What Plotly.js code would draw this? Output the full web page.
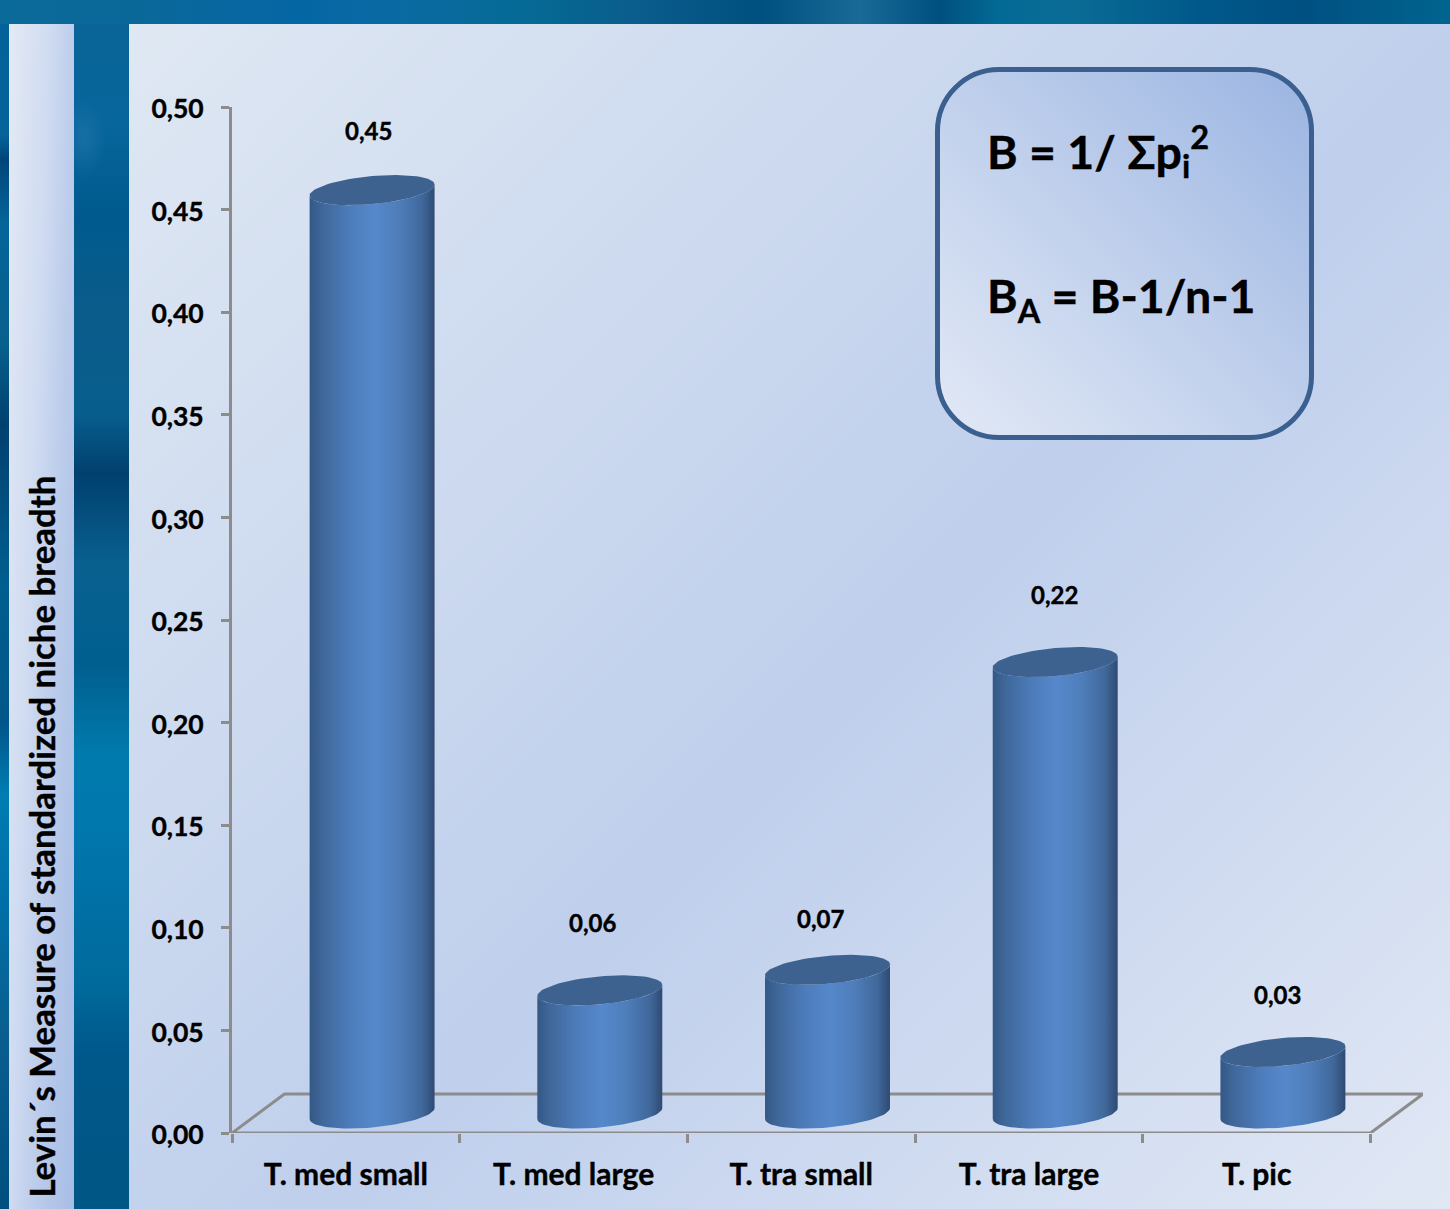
<!DOCTYPE html>
<html>
<head>
<meta charset="utf-8">
<script src="https://cdn.plot.ly/plotly-3.0.1.min.js"></script>
<style>
  html, body { margin: 0; padding: 0; width: 1450px; height: 1209px; overflow: hidden; background: #005f8f; }
  .layer { position: absolute; }
  #band { left: 0; top: 0; width: 1450px; height: 24px;
    background: linear-gradient(90deg, #0a6a9a 0, #0a6898 130px, #0566a5 300px, #0a6aa2 400px, #056a95 530px, #0a5c8c 640px, #00507f 760px, #1a6a98 860px, #00507f 940px, #036a95 1000px, #0a6c95 1070px, #00588a 1200px, #005082 1300px, #00648f 1450px); }
  #edge { left: 0; top: 24px; width: 9px; height: 1185px;
    background: linear-gradient(180deg, #03629a 0, #05659a 110px, #00457a 135px, #05659a 200px, #08608c 320px, #00406f 400px, #005f8f 560px, #00568a 700px, #007db2 770px, #006fa8 880px, #0a5f90 1000px, #004f7f 1185px); }
  #gutter { left: 74px; top: 24px; width: 55px; height: 1185px;
    background:
      radial-gradient(ellipse 22px 40px at 10px 115px, rgba(50,125,180,.4), rgba(50,125,180,0)),
      linear-gradient(180deg, #0a6497 0, #07669c 100px, #005a8e 190px, #0a5c8a 290px, #075e8d 390px, #00406f 450px, #09608f 540px, #005f8f 640px, #007aac 730px, #0078ae 790px, #0070a5 880px, #006a9c 960px, #00578a 1030px, #005785 1185px); }
  #strip { left: 9px; top: 24px; width: 65px; height: 1185px;
    background: linear-gradient(92deg, #e4eaf5 0%, #cfdbf1 39%, #bdcdeb 61%, #a6bde5 100%); }
  #panel { left: 129px; top: 24px; width: 1321px; height: 1185px;
    background: linear-gradient(135deg, #dfe8f3 0%, #bfcfec 55%, #e1e8f5 100%); }
  #formulaBox { left: 935px; top: 67px; width: 369px; height: 363px; border: 5px solid #3b6090; border-radius: 64px;
    background: linear-gradient(225deg, #9bb5e2 0%, #bccdeb 45%, #e2e9f6 100%); }
  #chart { left: 0; top: 0; width: 1450px; height: 1209px; }
  /* Slightly heavier strokes for every chart text */
  #chart text { stroke: #000; stroke-width: 0.4px; }
  /* Value-axis labels sit a touch below their tick marks */
  #chart .ytick text { translate: 0 2px; }
</style>
</head>
<body>
<div class="layer" id="band"></div>
<div class="layer" id="edge"></div>
<div class="layer" id="gutter"></div>
<div class="layer" id="strip"></div>
<div class="layer" id="panel"></div>
<div class="layer" id="formulaBox"></div>
<div class="layer" id="chart"></div>
<script>
// Niche breadth per group
const categories = ['T. med small', 'T. med large', 'T. tra small', 'T. tra large', 'T. pic'];
const values = [0.45, 0.06, 0.07, 0.22, 0.03];
const valueLabels = ['0,45', '0,06', '0,07', '0,22', '0,03'];
const yTicks = [0, 0.05, 0.1, 0.15, 0.2, 0.25, 0.3, 0.35, 0.4, 0.45, 0.5];
const boundaries = [-0.5, 0.5, 1.5, 2.5, 3.5, 4.5];
const axisTitle = 'Levin´s Measure of standardized niche breadth';
const formulaOne = 'B = 1/ Σp<sub>i</sub><sup>2</sup>';
const formulaTwo = 'B<sub>A</sub> = B-1/n-1';

// Label offsets in px, relative to each cylinder's top
const labelNudgeX = [-4, -7, -7, -1, -5];
const labelNudgeY = [60, 68, 51, 68, 57];

// Plot frame in px
const W = 1450, H = 1209;
const M = { l: 231.5, r: 27, t: 106.5, b: 76 };
const plotW = W - M.l - M.r, plotH = H - M.t - M.b;

// Data scales: px per category slot and per unit of value
const slotPx = 227.8;
const unitPx = plotH / 0.5;
const depthX = 52.5 / slotPx;       // floor depth, in slots
const depthY = 39 / unitPx;         // floor depth, in value units
const xMin = -0.5, xMax = 4.5 + depthX;

// Cylinder shape, in px
const radiusX = 62.5, radiusY = 14, tilt = 5.5;
const axisGrey = '#8c8c8c';
const bodyStops = [
  [0, '#335886'], [0.1, '#3f6799'], [0.32, '#4d7cbb'], [0.52, '#5588cb'],
  [0.72, '#4e7db9'], [0.9, '#40689b'], [1, '#2e4a72']
];

function rimPoint(cx, cy, t) {
  return [
    cx + depthX / 2 + radiusX * Math.cos(t) / slotPx,
    cy + depthY / 2 + (radiusY * Math.sin(t) + tilt * Math.cos(t)) / unitPx
  ];
}

function bodyOutline(i, v) {
  const xs = [], ys = [];
  // front half of the base, left to right
  for (let k = 0; k <= 40; k++) {
    const [x, y] = rimPoint(i, 0, Math.PI + k * Math.PI / 40);
    xs.push(x); ys.push(y);
  }
  // front half of the top, right to left
  for (let k = 0; k <= 40; k++) {
    const [x, y] = rimPoint(i, v, 2 * Math.PI - k * Math.PI / 40);
    xs.push(x); ys.push(y);
  }
  xs.push(xs[0]); ys.push(ys[0]);
  return { xs, ys };
}

function topOutline(i, v) {
  const xs = [], ys = [];
  for (let k = 0; k <= 80; k++) {
    const [x, y] = rimPoint(i, v, k * 2 * Math.PI / 80);
    xs.push(x); ys.push(y);
  }
  return { xs, ys };
}

const traces = [];

// Floor of the 3D plot, behind the cylinders
traces.push({
  type: 'scatter', mode: 'lines', hoverinfo: 'skip', showlegend: false,
  x: [-0.5, 4.5, 4.5 + depthX, -0.5 + depthX, -0.5],
  y: [0, 0, depthY, depthY, 0],
  line: { color: axisGrey, width: 3 }, cliponaxis: false
});

categories.forEach((name, i) => {
  const body = bodyOutline(i, values[i]);
  traces.push({
    type: 'scatter', mode: 'lines', name, x: body.xs, y: body.ys, fill: 'toself',
    line: { width: 0, color: 'rgba(0,0,0,0)' }, hoverinfo: 'skip', showlegend: false,
    fillgradient: { type: 'horizontal', colorscale: bodyStops }
  });
  const top = topOutline(i, values[i]);
  traces.push({
    type: 'scatter', mode: 'lines', name: name + ' top', x: top.xs, y: top.ys, fill: 'toself',
    fillcolor: '#3d628f', line: { width: 0, color: 'rgba(0,0,0,0)' },
    hoverinfo: 'skip', showlegend: false
  });
});

// Unmarked trace that keeps the category label axis alive
traces.push({
  type: 'scatter', mode: 'none', xaxis: 'x2', yaxis: 'y', hoverinfo: 'skip', showlegend: false,
  x: categories.map((_, i) => i), y: values
});

const valueAnnotations = categories.map((_, i) => ({
  xref: 'x', yref: 'y', x: i + depthX / 2, y: values[i] + depthY / 2,
  xshift: labelNudgeX[i], yshift: labelNudgeY[i],
  text: valueLabels[i], showarrow: false, xanchor: 'center', yanchor: 'middle',
  font: { size: 24, color: '#000', family: 'Lato', weight: 700 }
}));

const pxX = p => (p - M.l) / plotW;
const pxY = p => 1 - (p - M.t) / plotH;

const layout = {
  width: W, height: H,
  margin: { l: M.l, r: M.r, t: M.t, b: M.b, pad: 0 },
  paper_bgcolor: 'rgba(0,0,0,0)', plot_bgcolor: 'rgba(0,0,0,0)',
  font: { family: 'Lato', color: '#000', weight: 700 },
  showlegend: false,
  xaxis: {
    range: [xMin, xMax], tickmode: 'array', tickvals: boundaries, showticklabels: false,
    ticks: 'outside', ticklen: 9, tickwidth: 3, tickcolor: axisGrey,
    showgrid: false, zeroline: false, showline: false
  },
  xaxis2: {
    overlaying: 'x', anchor: 'y', side: 'bottom', range: [xMin, xMax],
    tickmode: 'array', tickvals: categories.map((_, i) => i), ticktext: categories,
    ticks: '', showgrid: false, zeroline: false, showline: false, ticklabelstandoff: 21,
    tickfont: { size: 30, family: 'Lato', weight: 700, color: '#000' }
  },
  yaxis: {
    range: [0, 0.5], tickmode: 'array', tickvals: yTicks, tickformat: '.2f',
    ticks: 'outside', ticklen: 8, tickwidth: 3, tickcolor: axisGrey,
    showline: true, linecolor: axisGrey, linewidth: 3, showgrid: false, zeroline: false,
    ticklabelstandoff: 12,
    tickfont: { size: 26.5, family: 'Lato', weight: 700, color: '#000' }
  },
  separators: ',.',
  annotations: valueAnnotations.concat([
    {
      xref: 'paper', yref: 'paper', x: pxX(41), y: pxY(1200), xanchor: 'center', yanchor: 'bottom',
      text: axisTitle, textangle: -90, showarrow: false,
      font: { size: 34.8, family: 'Lato', weight: 700, color: '#000' }
    },
    {
      xref: 'paper', yref: 'paper', x: pxX(985), y: pxY(151), xanchor: 'left', yanchor: 'middle',
      text: formulaOne, showarrow: false, align: 'left',
      font: { size: 46.5, family: 'Lato', weight: 700, color: '#000' }
    },
    {
      xref: 'paper', yref: 'paper', x: pxX(985), y: pxY(298.5), xanchor: 'left', yanchor: 'middle',
      text: formulaTwo, showarrow: false, align: 'left',
      font: { size: 46.5, family: 'Lato', weight: 700, color: '#000' }
    }
  ])
};

Plotly.newPlot('chart', traces, layout, { displayModeBar: false, staticPlot: true });
</script>
</body>
</html>
